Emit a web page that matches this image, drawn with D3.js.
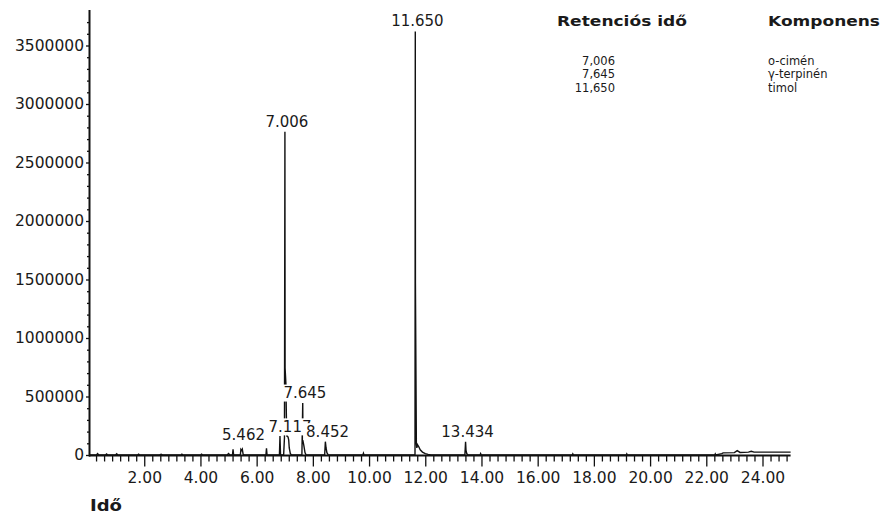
<!DOCTYPE html>
<html>
<head>
<meta charset="utf-8">
<script src="https://cdn.jsdelivr.net/npm/d3@7"></script>
<style>
  body { margin: 0; background: #fff; }
  svg text { font-family: "DejaVu Sans", sans-serif; fill: #1a1a1a; }
</style>
</head>
<body>
<div id="chart"></div>
<script>
const traceTime = [
  0.07, 0.30, 0.34, 0.38, 0.62, 0.66, 0.70, 0.98, 1.02, 1.06, 1.76, 1.80, 1.84,
  2.55, 2.60, 2.65, 3.30, 3.34, 3.38, 4.00, 4.04, 4.08, 4.95, 5.00, 5.05,
  5.14, 5.16, 5.18, 5.42, 5.44, 5.47, 5.49, 5.52, 5.56,
  6.33, 6.35, 6.37, 6.81, 6.83, 6.85, 6.96, 6.99, 7.006, 7.012, 7.04, 7.06, 7.08,
  7.117, 7.14, 7.16, 7.20, 7.25,
  7.61, 7.640, 7.648, 7.68, 7.72, 7.76,
  8.42, 8.445, 8.47, 8.50, 8.55,
  9.78, 9.80, 9.82,
  11.635, 11.645, 11.650, 11.683, 11.70, 11.72, 11.77, 11.82, 11.90, 12.00, 12.10, 12.20,
  13.41, 13.434, 13.45, 13.48, 13.52, 13.95, 13.97, 13.99,
  17.23, 17.25, 17.27, 19.15, 19.17, 19.19, 22.30, 22.32, 22.34,
  22.55, 22.60, 23.00, 23.10, 23.20, 23.50, 23.60, 23.70, 24.00, 24.50, 25.00
];
const traceSignal = [
  0, 0, 12000, 0, 0, 9000, 0, 0, 10000, 0, 0, 8000, 0,
  0, 6000, 0, 0, 7000, 0, 0, 8000, 0, 0, 12000, 0,
  0, 49000, 0, 0, 49000, 40000, 49000, 6000, 0,
  0, 57000, 0, 0, 162000, 0, 0, 150000, 2763000, 744000, 615000, 300000, 160000,
  155000, 130000, 60000, 10000, 0,
  0, 444000, 120000, 80000, 20000, 0,
  0, 114000, 60000, 20000, 0,
  0, 15000, 0,
  0, 3620000, 1470000, 100000, 60000, 90000, 70000, 45000, 25000, 12000, 5000, 0,
  0, 114000, 40000, 10000, 0, 0, 12000, 0,
  0, 10000, 0, 0, 10000, 0, 0, 10000, 0,
  12000, 18000, 20000, 37000, 22000, 25000, 32000, 25000, 25000, 25000, 25000
];

// pics annotes (ordre de dessin : les derniers recouvrent les premiers)
const peakTimes   = [5.462, 7.117, 8.452, 7.645, 7.006, 11.650, 13.434];
const peakHeights = [49000, 155000, 114000, 444000, 2763000, 3620000, 114000];
const peakLabels  = ["5.462", "7.117", "8.452", "7.645", "7.006", "11.650", "13.434"];

// tableau des composants
const retentionTimes = ["7,006", "7,645", "11,650"];
const components     = ["o-cimén", "γ-terpinén", "timol"];

const xMajorTicks = [2, 4, 6, 8, 10, 12, 14, 16, 18, 20, 22, 24];
const yMajorTicks = [0, 500000, 1000000, 1500000, 2000000, 2500000, 3000000, 3500000];

const width = 881, height = 515;

const svg = d3.select("#chart")
  .append("svg")
  .attr("width", width)
  .attr("height", height);

const x = d3.scaleLinear().domain([0.07, 25]).range([90, 790.6]);
const y = d3.scaleLinear().domain([0, 3800000]).range([455, 10.4]);

// graduations mineures : 7 intervalles entre deux graduations majeures
const xMinor = d3.range(1, 88).map(k => k * 2 / 7).filter((v, k) => (k + 1) % 7 !== 0);
const yMinor = d3.range(1, 38).map(k => k * 100000).filter(v => v % 500000 !== 0);

// axe x
const gx = svg.append("g").attr("transform", "translate(0,455.5)");
gx.append("g")
  .call(d3.axisBottom(x).tickValues(xMinor).tickSize(6).tickFormat(""))
  .call(g => g.select(".domain").remove());
gx.append("g")
  .call(d3.axisBottom(x).tickValues(xMajorTicks).tickSize(11).tickPadding(5)
    .tickFormat(d3.format(".2f")))
  .call(g => g.select(".domain").remove());
gx.selectAll("line").attr("stroke", "#111").attr("stroke-width", 1.3);
gx.selectAll("text").style("font-size", "15.5px").attr("fill", "#1a1a1a");
gx.append("line")
  .attr("x1", 89).attr("x2", x(25))
  .attr("stroke", "#111").attr("stroke-width", 2);

// axe y
const gy = svg.append("g").attr("transform", "translate(89.5,0)");
gy.append("g")
  .call(d3.axisLeft(y).tickValues(yMinor).tickSize(2.5).tickFormat(""))
  .call(g => g.select(".domain").remove());
gy.append("g")
  .call(d3.axisLeft(y).tickValues(yMajorTicks).tickSize(3.5).tickPadding(2)
    .tickFormat(d3.format("d")))
  .call(g => g.select(".domain").remove());
gy.selectAll("line").attr("stroke", "#111").attr("stroke-width", 1.3);
gy.selectAll("text").style("font-size", "15.5px").attr("fill", "#1a1a1a");
gy.append("line")
  .attr("y1", 10).attr("y2", 456.5)
  .attr("stroke", "#111").attr("stroke-width", 2);

// trace
const trace = traceTime.map((t, i) => ({ t: t, v: traceSignal[i] }));
svg.append("path")
  .datum(trace)
  .attr("fill", "none")
  .attr("stroke", "#111")
  .attr("stroke-width", 1.4)
  .attr("d", d3.line().x(d => x(d.t)).y(d => y(d.v)));

// etiquettes des pics avec fond blanc
const labels = svg.append("g").style("font-size", "15px");
peakTimes.forEach((t, i) => {
  const g = labels.append("g");
  const txt = g.append("text")
    .attr("x", x(t) + 2)
    .attr("y", Math.min(y(peakHeights[i]) - 5, 440))
    .attr("text-anchor", "middle")
    .text(peakLabels[i]);
  const b = txt.node().getBBox();
  g.insert("rect", "text")
    .attr("x", b.x - 3).attr("y", b.y + 0.5)
    .attr("width", b.width + 6).attr("height", b.height - 1)
    .attr("fill", "#fff");
});

// tableau
const legend = svg.append("g");
legend.append("text")
  .attr("x", 557).attr("y", 26)
  .attr("textLength", 130).attr("lengthAdjust", "spacingAndGlyphs")
  .style("font-size", "14.7px").style("font-weight", "bold")
  .text("Retenciós idő");
legend.append("text")
  .attr("x", 768).attr("y", 26)
  .attr("textLength", 112).attr("lengthAdjust", "spacingAndGlyphs")
  .style("font-size", "14.7px").style("font-weight", "bold")
  .text("Komponens");
legend.selectAll(".rt")
  .data(retentionTimes)
  .join("text")
  .attr("class", "rt")
  .attr("x", 615)
  .attr("y", (d, i) => 64.5 + i * 13.5)
  .attr("text-anchor", "end")
  .style("font-size", "11.5px")
  .text(d => d);
legend.selectAll(".comp")
  .data(components)
  .join("text")
  .attr("class", "comp")
  .attr("x", 768)
  .attr("y", (d, i) => 64.5 + i * 13.5)
  .style("font-size", "11.5px")
  .text(d => d);

// titre de l'axe
svg.append("text")
  .attr("x", 90).attr("y", 511)
  .attr("textLength", 32).attr("lengthAdjust", "spacingAndGlyphs")
  .style("font-size", "16px").style("font-weight", "bold")
  .text("Idő");
</script>
</body>
</html>
